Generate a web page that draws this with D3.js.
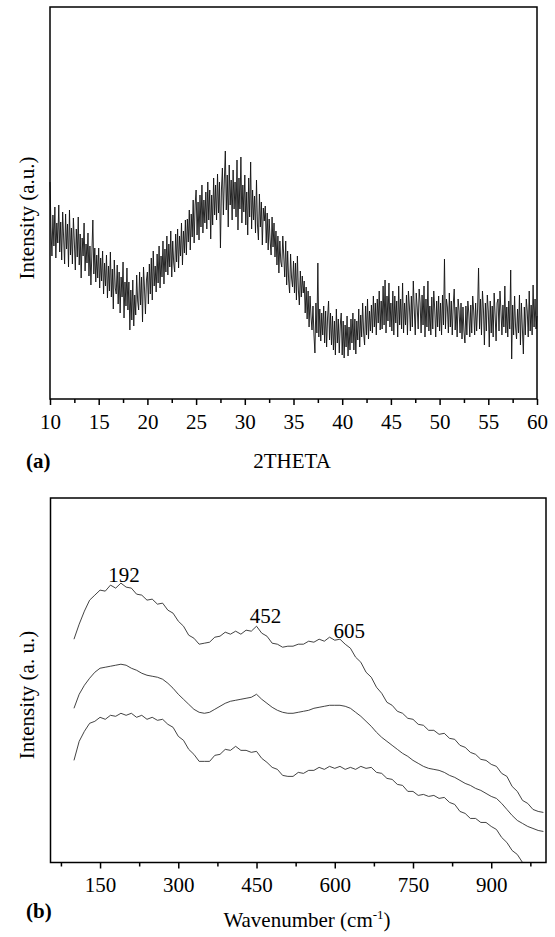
<!DOCTYPE html>
<meta charset="utf-8">
<style>
    body { margin: 0; background: #fff; }
    svg text {
        font-family: "Liberation Serif", "DejaVu Serif", "Times New Roman", serif;
        font-size: 21px;
        fill: #000;
    }
    .frame { fill: none; stroke: #000; stroke-width: 1.5px; }
    .axis path { display: none; }
    .axis line { stroke: #000; stroke-width: 1.5px; }
    .xrd { fill: none; stroke: #111; stroke-width: 0.9px; }
    .raman { fill: none; stroke: #2e2e2e; stroke-width: 0.9px; }
</style>
<body>
<svg width="555" height="937"></svg>
<script src="https://d3js.org/d3.v7.min.js"></script>
<script>
    // (a) XRD scan, 10-60 deg in 0.1 deg steps, counts (a.u.)
    const xrdAngleStart = 10, xrdAngleStep = 0.1;
    const xrdCounts = [
        216,170,142,183,152,191,140,175,155,193,
        146,176,138,186,160,134,184,149,174,131,
        188,143,170,134,180,156,128,169,141,181,
        133,164,120,160,142,175,127,154,135,165,
        122,152,113,145,178,124,150,116,143,120,
        150,110,140,117,147,104,135,112,143,100,
        132,107,146,101,129,89,138,110,104,133,
        94,126,85,121,101,136,80,116,92,130,
        88,116,68,108,78,118,72,103,83,123,
        97,88,126,93,121,76,131,110,84,118,
        126,94,134,104,140,98,147,112,132,106,
        144,115,152,110,142,121,157,114,149,126,
        162,123,154,131,167,121,157,135,126,164,
        136,169,130,162,142,175,133,167,145,178,
        143,179,156,188,148,184,161,198,155,193,
        208,163,196,158,203,171,213,165,198,175,
        206,169,216,178,208,159,203,173,220,183,
        213,178,224,185,216,150,208,230,183,218,
        247,188,223,171,233,193,218,178,228,189,
        216,181,238,168,220,189,241,175,213,186,
        223,173,206,163,220,181,236,169,208,178,
        202,165,218,173,158,204,171,196,153,190,
        177,192,155,185,148,179,158,143,181,151,
        175,141,167,133,162,125,157,136,131,162,
        142,121,157,113,147,118,105,144,120,111,
        137,105,135,98,142,108,93,127,101,122,
        105,117,85,111,79,107,71,102,81,68,
        92,63,45,95,65,135,61,89,57,85,
        63,92,55,87,51,81,97,58,85,53,
        82,48,77,43,89,55,79,45,73,85,
        43,77,40,73,51,82,42,71,48,79,
        55,85,48,79,44,77,58,89,51,83,
        61,95,65,53,92,63,99,59,87,67,
        93,65,102,71,95,63,99,75,107,68,
        97,69,112,73,118,65,102,77,115,71,
        95,67,107,63,102,75,97,61,112,73,
        99,69,115,65,95,73,103,63,107,92,
        67,102,71,117,89,63,105,91,69,109,
        95,65,103,73,112,61,99,71,117,67,
        92,63,101,69,107,89,61,97,71,102,
        67,95,63,103,73,139,69,99,91,65,
        105,71,97,63,93,109,68,91,61,99,
        87,65,95,59,91,67,55,92,63,97,
        85,61,93,65,102,87,63,95,67,89,
        130,69,99,63,107,89,53,95,67,103,
        87,51,97,65,92,61,105,83,57,95,
        99,67,107,87,63,93,71,112,65,91,
        61,97,69,128,39,93,63,102,71,59,
        89,65,103,53,95,69,44,91,63,99,
        87,61,107,67,93,63,113,71,99,69,
        82
    ];
    const xrdTicks = [10, 15, 20, 25, 30, 35, 40, 45, 50, 55, 60];

    // (b) Raman spectra, 100 cm-1 onwards in 10 cm-1 steps (a.u., offset stacked)
    const ramanStart = 100, ramanStep = 10;
    const ramanTop = [
        223,238,251,262,267,272,271,277,274,279,275,274,268,267,262,263,258,259,252,249,
        241,236,227,224,218,219,220,225,226,230,228,231,228,232,231,236,229,226,219,218,
        215,216,216,218,218,221,220,223,221,225,222,223,218,214,205,200,190,185,175,169,
        160,157,151,149,144,143,138,137,132,132,128,129,124,123,117,115,110,108,103,102,
        98,96,89,86,76,71,62,59,53,51,50
    ];
    const ramanMiddle = [
        154,168,177,184,190,194,195,196,197,198,197,194,192,189,187,186,185,183,179,174,
        168,163,158,153,150,149,150,153,156,159,161,162,163,164,165,168,163,159,155,152,
        150,149,149,150,151,152,154,155,156,157,157,157,156,154,150,146,141,136,130,125,
        121,117,113,109,106,102,99,96,94,93,92,90,87,85,82,79,77,74,72,69,
        66,64,59,53,47,42,39,36,34,32,31
    ];
    const ramanBottom = [
        102,121,131,139,141,145,143,147,146,149,147,149,145,147,143,145,142,143,138,135,
        126,122,113,108,101,101,101,107,108,113,112,116,112,112,110,111,104,100,95,93,
        87,86,86,90,89,92,92,95,93,96,94,96,93,95,93,96,94,95,90,89,
        84,83,78,77,71,71,67,68,66,67,64,65,60,58,51,49,44,44,40,40,
        36,33,25,20,12,8,0,-5
    ];
    const ramanTicks = [150, 300, 450, 600, 750, 900];
    const ramanMinorTicks = [75, 225, 375, 525, 675, 825, 975];
    const peakLabels = [192, 452, 605];
    const peakHeights = [280, 239, 224];

    const svg = d3.select("svg");

    // ---------- panel (a) ----------
    const a = { left: 50, right: 537, top: 7, bottom: 399 };
    const xa = d3.scaleLinear().domain([10, 60]).range([a.left, a.right]);
    const ya = d3.scaleLinear().domain([0, 391]).range([398, a.top]);

    const xrd = xrdCounts.map((c, i) => [xrdAngleStart + i * xrdAngleStep, c]);

    svg.append("path")
        .datum(xrd)
        .attr("class", "xrd")
        .attr("d", d3.line().x(d => xa(d[0])).y(d => ya(d[1])));

    svg.append("g")
        .attr("class", "axis")
        .attr("transform", `translate(0,${a.bottom})`)
        .call(d3.axisBottom(xa).tickValues(xrdTicks).tickSize(6).tickPadding(9).tickFormat(d3.format("d")));
    svg.append("g")
        .attr("class", "axis")
        .attr("transform", `translate(0,${a.bottom})`)
        .call(d3.axisBottom(xa).tickValues(xrdTicks.slice(0, -1).map(t => t + 2.5)).tickSize(4).tickFormat(""));

    svg.append("rect")
        .attr("class", "frame")
        .attr("x", a.left).attr("y", a.top)
        .attr("width", a.right - a.left).attr("height", a.bottom - a.top);

    svg.append("text")
        .attr("transform", "translate(34,218) rotate(-90)")
        .attr("text-anchor", "middle")
        .text("Intensity (a.u.)");
    svg.append("text")
        .attr("x", 292).attr("y", 468)
        .attr("text-anchor", "middle")
        .text("2THETA");
    svg.append("text")
        .attr("x", 26).attr("y", 468)
        .style("font-weight", "bold")
        .text("(a)");

    // ---------- panel (b) ----------
    const b = { left: 50.5, right: 546, top: 498, bottom: 862.5 };
    const xb = d3.scaleLinear().domain([55, 1005]).range([b.left, b.right]);
    const yb = d3.scaleLinear().domain([0, 364]).range([b.bottom, b.top]);

    svg.append("clipPath").attr("id", "clip-b")
        .append("rect")
        .attr("x", b.left).attr("y", b.top)
        .attr("width", b.right - b.left).attr("height", b.bottom - b.top);

    const ramanLine = d3.line().x(d => xb(d[0])).y(d => yb(d[1]));
    const series = [ramanTop, ramanMiddle, ramanBottom]
        .map(s => s.map((v, i) => [ramanStart + i * ramanStep, v]));

    svg.append("g")
        .attr("clip-path", "url(#clip-b)")
        .selectAll("path")
        .data(series)
        .enter().append("path")
        .attr("class", "raman")
        .attr("d", ramanLine);

    svg.append("g")
        .attr("class", "axis")
        .attr("transform", `translate(0,${b.bottom})`)
        .call(d3.axisBottom(xb).tickValues(ramanTicks).tickSize(6).tickPadding(9).tickFormat(d3.format("d")));
    svg.append("g")
        .attr("class", "axis")
        .attr("transform", `translate(0,${b.bottom})`)
        .call(d3.axisBottom(xb).tickValues(ramanMinorTicks).tickSize(4).tickFormat(""));

    svg.append("rect")
        .attr("class", "frame")
        .attr("x", b.left).attr("y", b.top)
        .attr("width", b.right - b.left).attr("height", b.bottom - b.top);

    // peak labels sit a little right of the peak position, as in the figure
    svg.selectAll("text.peak")
        .data(peakLabels)
        .enter().append("text")
        .attr("class", "peak")
        .attr("text-anchor", "middle")
        .attr("x", (d, i) => xb(d) + [2, 8, 12][i])
        .attr("y", (d, i) => yb(peakHeights[i]))
        .text(d => d);

    svg.append("text")
        .attr("transform", "translate(34,695) rotate(-90)")
        .attr("text-anchor", "middle")
        .text("Intensity (a. u.)");

    const xlab = svg.append("text")
        .attr("x", 307).attr("y", 927)
        .attr("text-anchor", "middle");
    xlab.append("tspan").text("Wavenumber (cm");
    xlab.append("tspan").attr("dy", -8).style("font-size", "13px").text("-1");
    xlab.append("tspan").attr("dy", 8).text(")");

    svg.append("text")
        .attr("x", 26).attr("y", 918)
        .style("font-weight", "bold")
        .text("(b)");
</script>
</body>
